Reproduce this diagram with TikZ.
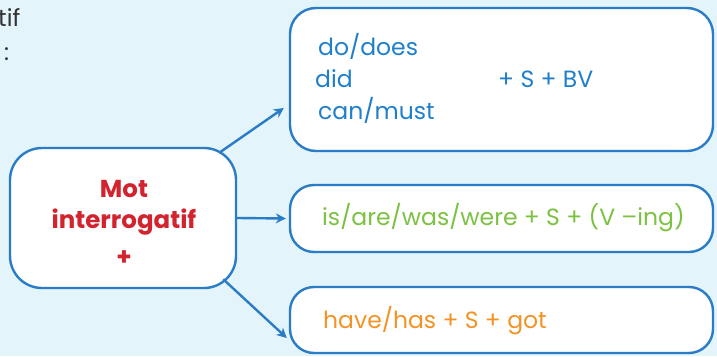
\documentclass[tikz,border=0pt]{standalone}
\usepackage{fontspec}
\setmainfont{Poppins}
\usetikzlibrary{arrows.meta,calc}
\definecolor{bg}{HTML}{E3F4FB}
\definecolor{bord}{HTML}{2A7CC6}
\definecolor{tblue}{HTML}{1F7FCB}
\definecolor{tgreen}{HTML}{7CC242}
\definecolor{torange}{HTML}{F39325}
\definecolor{tred}{HTML}{D2232E}
\definecolor{tgray}{HTML}{333333}
\tikzset{
  box/.style={draw=bord, fill=white, line width=2.4pt, inner sep=0pt},
  arr/.style={draw=bord, line width=2.4pt, -{Stealth[length=10pt,width=10pt]}},
  txt/.style={anchor=base west, inner sep=0pt, font=\fontsize{23.5}{28}\selectfont},
  mtxt/.style={anchor=base, inner sep=0pt, text=tred, font=\fontsize{24.5}{28}\selectfont\bfseries},
}
\begin{document}
\begin{tikzpicture}[x=1pt,y=-1pt]
\fill[bg] (0,0) rectangle (717,356);
\useasboundingbox (0,0) rectangle (717,356);
% partial text at top left
\node[txt, text=tgray] (frag1) at (-2,27) {tif};
\node[txt, text=tgray] (frag2) at (4,60) {:};
% boxes
\node[box, rounded corners=26pt, minimum width=423pt, minimum height=143pt] (top) at (501.5,79.5) {};
\node[box, rounded corners=32pt, minimum width=226pt, minimum height=140pt] (main) at (123,218) {};
\node[box, rounded corners=24pt, minimum width=423pt, minimum height=67pt] (mid) at (501.5,218.5) {};
\node[box, rounded corners=24pt, minimum width=423pt, minimum height=66pt] (bot) at (501.5,320) {};
% main text
\node[mtxt] (m1) at (124,197) {Mot};
\node[mtxt] (m2) at (124,228) {interrogatif};
\node[mtxt] (m3) at (124,265) {+};
% top box text
\node[txt, text=tblue] (t1) at (318,55) {do/does};
\node[txt, text=tblue] (t2) at (315,87) {did};
\node[txt, text=tblue] (t3) at (318,119) {can/must};
\node[txt, text=tblue] (t4) at (498,87) {+ S + BV};
% mid and bottom text
\node[txt, text=tgreen] (g1) at (322,225) {is/are/was/were + S + (V –ing)};
\node[txt, text=torange] (o1) at (323,328) {have/has + S + got};
% arrows
\draw[arr] ([xshift=-18pt,yshift=-6pt]main.north east) -- ([shift={(-5pt,-28.5pt)}]top.west);
\draw[arr] (main.east) -- ([xshift=-3pt]mid.west);
\draw[arr] ([xshift=-14pt,yshift=10pt]main.south east) -- ([shift={(-2pt,-18pt)}]bot.west);
\end{tikzpicture}
\end{document}
